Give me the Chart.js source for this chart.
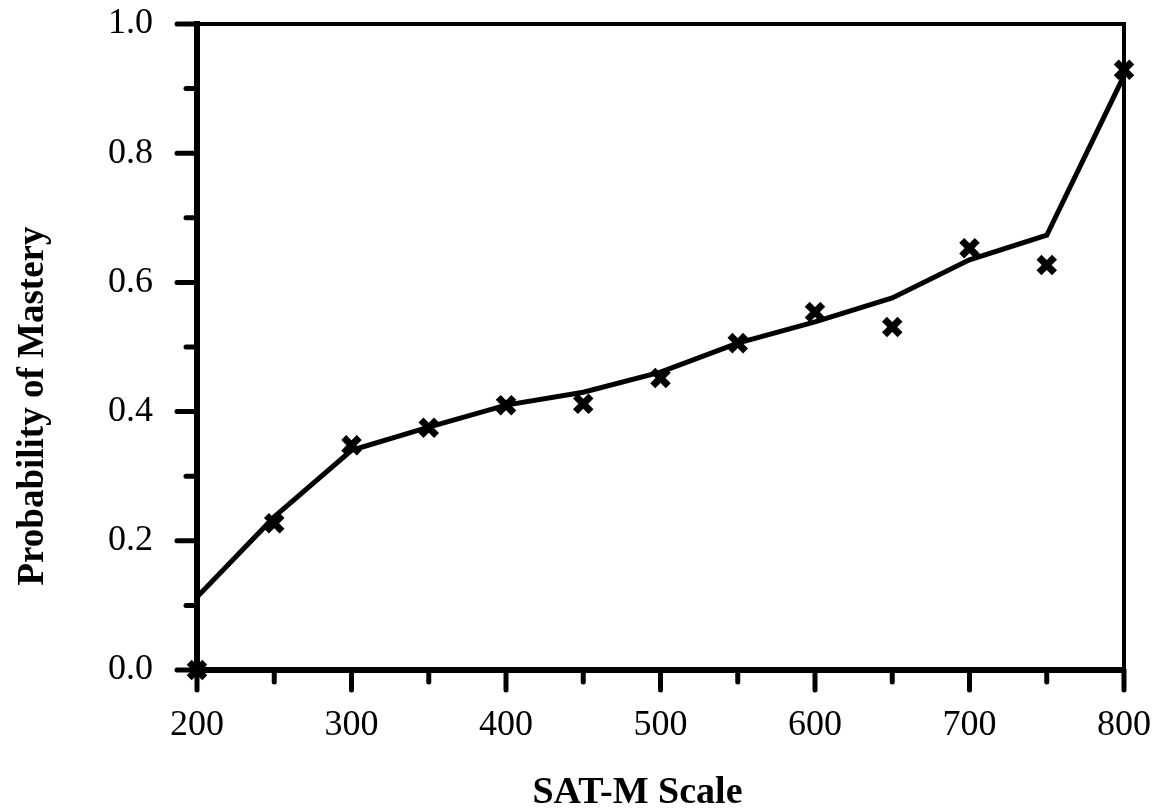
<!DOCTYPE html>
<html>
<head>
<meta charset="utf-8">
<title>Probability of Mastery</title>
<script src="https://cdn.jsdelivr.net/npm/chart.js"></script>
<style>
  html, body { margin: 0; padding: 0; background: #fff; }
  #wrap { width: 1164px; height: 809px; }
</style>
</head>
<body>
<div id="wrap"><canvas id="chart"></canvas></div>
<script>
// SAT-M scale points
const satScores = [200, 250, 300, 350, 400, 450, 500, 550, 600, 650, 700, 750, 800];
// observed proportions (x markers)
const observed = [0.0, 0.227, 0.348, 0.375, 0.41, 0.412, 0.452, 0.506, 0.554, 0.531, 0.653, 0.627, 0.929];
// fitted curve (solid line)
const fitted = [0.113, 0.237, 0.34, 0.376, 0.41, 0.43, 0.461, 0.506, 0.539, 0.576, 0.635, 0.673, 0.92];

const xTicks = [200, 300, 400, 500, 600, 700, 800];
const yTicks = ["0.0", "0.2", "0.4", "0.6", "0.8", "1.0"];

const xTitle = "SAT-M Scale";
const yTitle = "Probability of Mastery";

const FONT = "'Liberation Serif', 'Times New Roman', serif";

// outside tick marks, top/right frame lines and axis titles
const frameTicks = {
  id: "frameTicks",
  afterDatasetsDraw(chart) {
    const { ctx, chartArea: a, scales: { x, y } } = chart;
    ctx.save();
    ctx.strokeStyle = "#000";
    ctx.lineCap = "round";
    ctx.lineWidth = 4;
    ctx.beginPath();
    ctx.moveTo(a.left, a.top);
    ctx.lineTo(a.right, a.top);
    ctx.lineTo(a.right, a.bottom);
    ctx.stroke();

    ctx.lineWidth = 5;
    for (let v = 200; v <= 800; v += 50) {
      const px = x.getPixelForValue(v);
      const len = v % 100 === 0 ? 20 : 12;
      ctx.beginPath();
      ctx.moveTo(px, a.bottom);
      ctx.lineTo(px, a.bottom + len);
      ctx.stroke();
    }
    for (let i = 0; i <= 10; i++) {
      const py = y.getPixelForValue(i / 10);
      const len = i % 2 === 0 ? 20 : 11;
      ctx.beginPath();
      ctx.moveTo(a.left, py);
      ctx.lineTo(a.left - len, py);
      ctx.stroke();
    }

    // axis titles (a bit off-centre, as in the original figure)
    ctx.fillStyle = "#000";
    ctx.textAlign = "center";
    ctx.textBaseline = "alphabetic";
    ctx.font = "bold 38px " + FONT;
    ctx.fillText(xTitle, (a.left + a.right) / 2 - 23, 803);
    ctx.font = "bold 37px " + FONT;
    ctx.translate(43, (a.top + a.bottom) / 2 + 59);
    ctx.rotate(-Math.PI / 2);
    ctx.fillText(yTitle, 0, 0);
    ctx.restore();
  }
};

new Chart(document.getElementById("chart"), {
  type: "scatter",
  data: {
    datasets: [
      {
        type: "line",
        label: "Fitted",
        data: satScores.map((s, i) => ({ x: s, y: fitted[i] })),
        borderColor: "#000",
        borderWidth: 5,
        pointRadius: 0,
        fill: false,
        tension: 0,
        order: 2,
      },
      {
        label: "Observed",
        data: satScores.map((s, i) => ({ x: s, y: observed[i] })),
        pointStyle: "crossRot",
        pointRadius: 11,
        pointBorderWidth: 7,
        pointBorderColor: "#000",
        pointBackgroundColor: "#000",
        clip: false,
        order: 1,
      },
    ],
  },
  options: {
    responsive: true,
    maintainAspectRatio: false,
    animation: false,
    events: [],
    layout: { padding: { left: 0, right: 40, top: 24, bottom: 0 } },
    plugins: { legend: { display: false }, tooltip: { enabled: false } },
    scales: {
      x: {
        type: "linear",
        min: 200,
        max: 800,
        afterBuildTicks: (s) => { s.ticks = xTicks.map((v) => ({ value: v })); },
        afterFit: (s) => { s.height = 139; s.paddingLeft = 0; s.paddingRight = 0; },
        grid: { drawOnChartArea: false, drawTicks: false },
        border: { color: "#000", width: 6 },
        ticks: {
          color: "#000",
          padding: 34,
          maxRotation: 0,
          font: { family: FONT, size: 36 },
        },
      },
      y: {
        min: 0,
        max: 1,
        afterBuildTicks: (s) => { s.ticks = yTicks.map((t) => ({ value: parseFloat(t) })); },
        afterFit: (s) => { s.width = 197; s.paddingTop = 0; s.paddingBottom = 0; },
        grid: { drawOnChartArea: false, drawTicks: false },
        border: { color: "#000", width: 6 },
        ticks: {
          color: "#000",
          padding: 44,
          font: { family: FONT, size: 36 },
          callback: (v) => v.toFixed(1),
        },
      },
    },
  },
  plugins: [frameTicks],
});
</script>
</body>
</html>
